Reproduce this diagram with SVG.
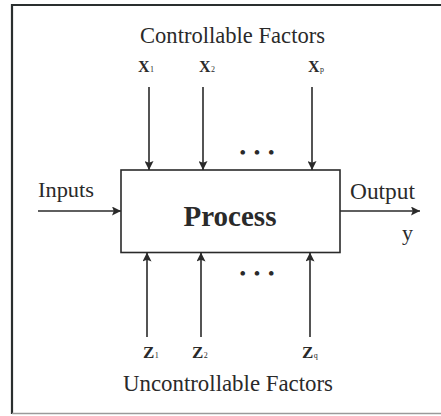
<svg xmlns="http://www.w3.org/2000/svg" width="441" height="416" viewBox="0 0 441 416">
<style>
.t{font-family:"Liberation Serif","Times New Roman",serif;fill:#2a2a2a}
.ln{stroke:#2a2a2a;stroke-width:1.6;fill:none}
.sub{font-size:8px}
.dots{font-size:17px;font-weight:bold}
</style>
<defs>
<marker id="ahw" viewBox="0 0 10 10" refX="10" refY="5" markerWidth="12" markerHeight="9" markerUnits="userSpaceOnUse" orient="auto">
<path d="M0,0 L10,5 L0,10 L2,5 z" fill="#2a2a2a"/>
</marker>
</defs>
<rect width="441" height="416" fill="#fff"/>
<g id="frame">
<path d="M12,414 L12,5 L441,5" stroke="#2a2f2f" stroke-width="2.2" fill="none"/>
<path d="M12,413.5 L441,413.5" stroke="#9a9a9a" stroke-width="1.5" fill="none"/>
</g>
<g id="process">
<rect x="121" y="170" width="219" height="82.5" class="ln"/>
<text class="t" x="230" y="226" font-size="29" font-weight="bold" text-anchor="middle">Process</text>
</g>
<g id="controllable">
<text class="t" x="232.5" y="43" font-size="22.5" text-anchor="middle" textLength="185" lengthAdjust="spacingAndGlyphs">Controllable Factors</text>
<text class="t" x="138" y="72" font-size="16" font-weight="bold">X<tspan class="sub" dx="0.5" font-weight="normal">1</tspan></text>
<text class="t" x="199" y="72" font-size="16" font-weight="bold">X<tspan class="sub" dx="0.5" font-weight="normal">2</tspan></text>
<text class="t" x="308" y="72" font-size="16" font-weight="bold">X<tspan class="sub" dx="0.5" font-weight="normal">p</tspan></text>
<text class="t dots" x="258" y="158" text-anchor="middle" letter-spacing="2">• • •</text>
</g>
<g id="uncontrollable">
<text class="t" x="143" y="358" font-size="17" font-weight="bold">Z<tspan class="sub" dx="0.5" font-weight="normal">1</tspan></text>
<text class="t" x="192" y="358" font-size="17" font-weight="bold">Z<tspan class="sub" dx="0.5" font-weight="normal">2</tspan></text>
<text class="t" x="302" y="358" font-size="17" font-weight="bold">Z<tspan class="sub" dx="0.5" font-weight="normal">q</tspan></text>
<text class="t" x="228" y="391" font-size="22.5" text-anchor="middle" textLength="210" lengthAdjust="spacingAndGlyphs">Uncontrollable Factors</text>
<text class="t dots" x="258" y="279" text-anchor="middle" letter-spacing="2">• • •</text>
</g>
<g id="inputs">
<text class="t" x="38" y="197" font-size="21" textLength="56" lengthAdjust="spacingAndGlyphs">Inputs</text>
</g>
<g id="output">
<text class="t" x="350" y="199" font-size="22.5" textLength="65" lengthAdjust="spacingAndGlyphs">Output</text>
<text class="t" x="402" y="240" font-size="22">y</text>
</g>
<g id="connectors">
<line x1="38" y1="211" x2="121" y2="211" class="ln" marker-end="url(#ahw)"/>
<line x1="340" y1="211" x2="420" y2="211" class="ln" marker-end="url(#ahw)"/>
<line x1="149" y1="87" x2="149" y2="170" class="ln" marker-end="url(#ahw)"/>
<line x1="203" y1="87" x2="203" y2="170" class="ln" marker-end="url(#ahw)"/>
<line x1="312" y1="87" x2="312" y2="170" class="ln" marker-end="url(#ahw)"/>
<line x1="147" y1="337" x2="147" y2="252.5" class="ln" marker-end="url(#ahw)"/>
<line x1="201" y1="337" x2="201" y2="252.5" class="ln" marker-end="url(#ahw)"/>
<line x1="310" y1="337" x2="310" y2="252.5" class="ln" marker-end="url(#ahw)"/>
</g>
</svg>
